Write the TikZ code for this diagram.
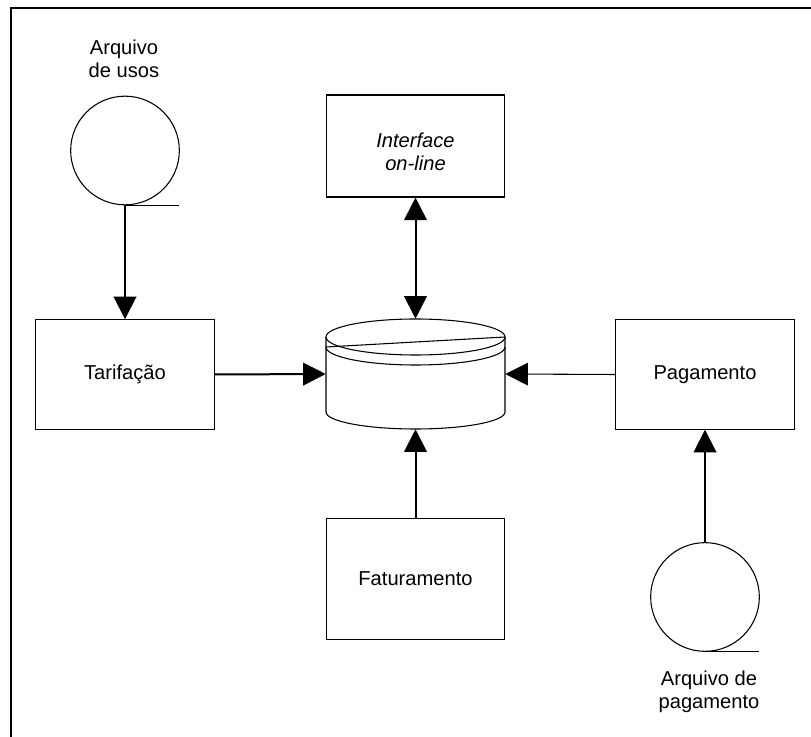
\documentclass[tikz,border=0pt]{standalone}
\usepackage{fontspec}
\setmainfont{Liberation Sans}
\usetikzlibrary{arrows.meta}

\tikzset{
  proc/.style={draw, line width=0.85pt, minimum width=134pt, inner sep=0pt,
               align=center},
  tape/.style={draw, circle, line width=0.8pt, minimum size=81.5pt, inner sep=0pt},
  label/.style={align=center, inner sep=0pt},
  flow/.style={line width=1.5pt, -{Triangle[length=17pt, width=17pt]}},
  thinflow/.style={line width=0.8pt, -{Triangle[length=17pt, width=17pt]}},
  twoway/.style={line width=1.5pt, {Triangle[length=17pt, width=17pt]}-{Triangle[length=17pt, width=17pt]}},
  dbline/.style={line width=0.8pt}
}

\begin{document}
\begin{tikzpicture}[x=0.75pt, y=-0.75pt,
  every node/.append style={font=\fontsize{15.1}{17.3}\selectfont}]
  \useasboundingbox (0,0) rectangle (811,737);
  \fill[white] (0,0) rectangle (811,737);

  % frame edges
  \draw[line width=1.3pt] (11,760) -- (11,8) -- (830,8);

  % processes
  \node[proc, minimum height=76.5pt] (iface) at (415.5,146) {};
  \node[label, font=\fontsize{15.1}{17.3}\selectfont\itshape]
       at ([yshift=-4.5pt]iface.center) {Interface\\on-line};
  \node[proc, minimum height=82pt] (tarif) at (125,374.5) {Tarifação};
  \node[proc, minimum height=82pt] (pag) at (705,374.5) {Pagamento};
  \node[proc, minimum height=91pt] (fat) at (415.5,579) {Faturamento};

  % tape files
  \node[tape] (usos) at (125,150.5) {};
  \draw[dbline] (usos.south) -- ++(54,0);
  \node[label] at (124,59) {Arquivo\\de usos};

  \node[tape] (pgto) at (705,597) {};
  \draw[dbline] (pgto.south) -- ++(54,0);
  \node[label] at (709,692) {Arquivo de\\pagamento};

  % database (drawn cylinder with lid)
  \node[minimum width=134.25pt, minimum height=82.5pt, inner sep=0pt] (db) at (415.5,374) {};
  \draw[dbline] (326,337) -- (326,412)
        arc[start angle=180, end angle=0, x radius=89.5, y radius=17] -- (505,337);
  \draw[dbline] (415.5,337) ellipse [x radius=89.5, y radius=18];
  \draw[dbline] (326,347) arc[start angle=180, end angle=0, x radius=89.5, y radius=18];
  \draw[dbline] (326,347) -- (505,337);

  % connectors
  \draw[flow] (usos.south) -- (tarif.north);
  \draw[flow] (tarif.east) -- (db.west);
  \draw[twoway] (iface.south) -- (db.north);
  \draw[flow] (fat.north) -- (db.south);
  \draw[thinflow] (pag.west) -- (db.east);
  \draw[flow] (pgto.north) -- (pag.south);
\end{tikzpicture}
\end{document}
